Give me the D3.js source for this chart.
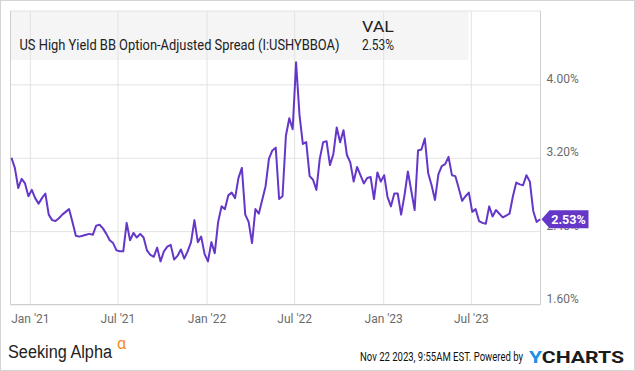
<!DOCTYPE html>
<html>
<head>
<meta charset="utf-8">
<script src="https://cdn.jsdelivr.net/npm/d3@7"></script>
<style>
  body { margin: 0; background: #fff; }
  svg { display: block; font-family: Roboto, "Noto Sans", sans-serif; }
</style>
</head>
<body>
<div class="chart"></div>
<script>
//weekly values, first week Nov 24 2020
var startDate = "2020-11-24";
var spreadVals = [
  3.20, 3.09, 2.87, 2.97, 2.92, 2.78, 2.85, 2.76, 2.70, 2.76,
  2.81, 2.58, 2.52, 2.51, 2.54, 2.58, 2.61, 2.64, 2.50, 2.35,
  2.34, 2.35, 2.36, 2.37, 2.36, 2.46, 2.47, 2.43, 2.37, 2.30,
  2.27, 2.19, 2.18, 2.18, 2.49, 2.30, 2.38, 2.33, 2.37, 2.33,
  2.19, 2.14, 2.12, 2.22, 2.07, 2.18, 2.23, 2.25, 2.09, 2.13,
  2.20, 2.10, 2.18, 2.28, 2.52, 2.28, 2.34, 2.15, 2.07, 2.28,
  2.16, 2.50, 2.67, 2.64, 2.79, 2.82, 2.76, 2.98, 3.09, 2.58,
  2.50, 2.27, 2.64, 2.59, 2.74, 2.89, 3.19, 3.28, 3.31, 2.75,
  2.78, 3.44, 3.63, 3.51, 4.24, 3.67, 3.35, 3.37, 3.00, 2.96,
  2.85, 3.19, 3.37, 3.38, 3.12, 3.24, 3.53, 3.37, 3.50, 3.23,
  3.15, 2.94, 3.10, 3.01, 2.92, 2.98, 2.99, 2.75, 3.04, 2.94,
  3.01, 2.77, 2.67, 2.81, 2.81, 2.58, 2.79, 3.05, 2.84, 2.63,
  3.28, 3.29, 3.41, 3.03, 2.90, 2.74, 3.02, 3.11, 3.13, 3.21,
  3.01, 3.00, 2.87, 2.73, 2.78, 2.82, 2.61, 2.64, 2.51, 2.49,
  2.48, 2.67, 2.56, 2.63, 2.59, 2.55, 2.57, 2.59, 2.78, 2.93,
  2.91, 2.90, 3.01, 2.94, 2.62, 2.50, 2.53
];

var yTicks = [1.6, 2.4, 3.2, 4.0];
var xTicks = ["2021-01-01", "2021-07-01", "2022-01-01", "2022-07-01", "2023-01-01", "2023-07-01"];
var xTickLabels = ["Jan '21", "Jul '21", "Jan '22", "Jul '22", "Jan '23", "Jul '23"];

var seriesName = "US High Yield BB Option-Adjusted Spread (I:USHYBBOA)";
var lastLabel = "2.53%";

var svgWidth = 635;
var svgHeight = 371;

//plot box
var plot = { left: 10.5, right: 540.5, top: 11, bottom: 304.5 };

var lineColor = "#6537c9";

var svg = d3.select(".chart")
  .append("svg")
  .attr("width", svgWidth)
  .attr("height", svgHeight);

var parseDate = d3.timeParse("%Y-%m-%d");
var start = parseDate(startDate);

var data = spreadVals.map(function (v, i) {
  return { date: d3.timeDay.offset(start, 7 * i), value: v };
});

var xScale = d3.scaleTime()
  .domain([parseDate("2020-11-22"), parseDate("2023-11-22")])
  .range([plot.left, plot.right]);

var yScale = d3.scaleLinear()
  .domain([1.6, 4.8])
  .range([plot.bottom, plot.top]);

/********************************************/
//outer frame
svg.append("rect")
  .attr("x", 0.5).attr("y", 0.5)
  .attr("width", svgWidth - 1).attr("height", svgHeight - 1)
  .attr("fill", "#fff")
  .attr("stroke", "#d4d4d4");

//legend background
svg.append("rect")
  .attr("x", plot.left).attr("y", plot.top)
  .attr("width", 458).attr("height", 49)
  .attr("fill", "#f5f5f5");

/********************************************/
//grid
var yAxis = d3.axisRight(yScale)
  .tickValues(yTicks)
  .tickSize(-(plot.right - plot.left))
  .tickFormat(d => d3.format(".2f")(d) + "%");

var yAxisG = svg.append("g")
  .attr("class", "y-axis")
  .attr("transform", `translate(${plot.right}, 0)`)
  .call(yAxis);

yAxisG.select(".domain").remove();
yAxisG.selectAll("line").attr("stroke", "#e3e3e3");
yAxisG.selectAll("text")
  .attr("x", 6)
  .attr("dy", "-0.15em")
  .attr("fill", "#6b6b6b")
  .style("font-size", "12px")
  .style("font-family", "Roboto");

var xAxis = d3.axisBottom(xScale)
  .tickValues(xTicks.map(parseDate))
  .tickSize(-(plot.bottom - plot.top))
  .tickFormat((d, i) => xTickLabels[i]);

var xAxisG = svg.append("g")
  .attr("class", "x-axis")
  .attr("transform", `translate(0, ${plot.bottom})`)
  .call(xAxis);

xAxisG.select(".domain").remove();
xAxisG.selectAll("line").attr("stroke", "#e3e3e3");
xAxisG.selectAll("text")
  .attr("y", 10)
  .attr("dy", "0.71em")
  .attr("fill", "#6b6b6b")
  .style("font-size", "12px")
  .style("font-family", "Roboto");

//plot border
svg.append("line")
  .attr("x1", plot.left).attr("x2", plot.right)
  .attr("y1", plot.top).attr("y2", plot.top)
  .attr("stroke", "#e3e3e3");

svg.append("path")
  .attr("d", `M${plot.left},${plot.top}V${plot.bottom}H${plot.right}V${plot.top}`)
  .attr("fill", "none")
  .attr("stroke", "#cfcfcf");

/********************************************/
//legend text
svg.append("text")
  .attr("x", 394).attr("y", 32)
  .attr("text-anchor", "end")
  .attr("fill", "#222")
  .style("font-size", "14px")
  .attr("textLength", 32)
  .attr("lengthAdjust", "spacingAndGlyphs")
  .text("VAL");

svg.append("text")
  .attr("x", 19.5).attr("y", 50)
  .attr("fill", "#222")
  .style("font-size", "14.5px")
  .attr("textLength", 320)
  .attr("lengthAdjust", "spacingAndGlyphs")
  .text(seriesName);

svg.append("text")
  .attr("x", 394).attr("y", 50)
  .attr("text-anchor", "end")
  .attr("fill", "#222")
  .style("font-size", "14.5px")
  .attr("textLength", 32)
  .attr("lengthAdjust", "spacingAndGlyphs")
  .text(lastLabel);

/********************************************/
//series line
var line = d3.line()
  .x(d => xScale(d.date))
  .y(d => yScale(d.value));

svg.append("path")
  .datum(data)
  .attr("d", line)
  .attr("fill", "none")
  .attr("stroke", lineColor)
  .attr("stroke-width", 2)
  .attr("stroke-linejoin", "round");

//last value badge
var last = data[data.length - 1];
var by = yScale(last.value);
var bx = plot.right + 1;

svg.append("path")
  .attr("d", `M${bx},${by}L${bx + 8},${by - 9}H${bx + 47}V${by + 9}H${bx + 8}Z`)
  .attr("fill", lineColor);

svg.append("text")
  .attr("x", bx + 27).attr("y", by + 4.5)
  .attr("text-anchor", "middle")
  .attr("fill", "#fff")
  .style("font-size", "12.5px")
  .style("font-weight", "bold")
  .text(lastLabel);

/********************************************/
//footer
var footer = svg.append("g");

footer.append("text")
  .attr("x", 8).attr("y", 358)
  .attr("fill", "#222")
  .style("font-family", "'Liberation Sans', Arial, sans-serif")
  .style("font-size", "18px")
  .attr("textLength", 104)
  .attr("lengthAdjust", "spacingAndGlyphs")
  .text("Seeking Alpha");

footer.append("text")
  .attr("x", 117).attr("y", 349)
  .attr("fill", "#f68b1f")
  .style("font-size", "16px")
  .text("α");

footer.append("text")
  .attr("x", 360).attr("y", 361)
  .attr("fill", "#111")
  .style("font-size", "12px")
  .attr("textLength", 163)
  .attr("lengthAdjust", "spacingAndGlyphs")
  .text("Nov 22 2023, 9:55AM EST.  Powered by");

var yc = footer.append("text")
  .attr("x", 529).attr("y", 363)
  .style("font-size", "16px")
  .style("font-weight", "bold")
  .attr("textLength", 95)
  .attr("lengthAdjust", "spacingAndGlyphs");

yc.append("tspan").attr("fill", "#1e90e8").text("Y");
yc.append("tspan").attr("fill", "#1c1c1c").text("CHARTS");
</script>
</body>
</html>
